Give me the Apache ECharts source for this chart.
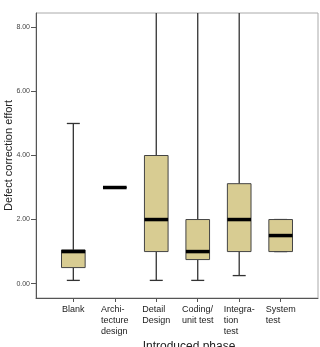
<!DOCTYPE html>
<html style="height: 100%">
<head>
<meta charset="utf-8">
<script src="https://cdn.jsdelivr.net/npm/echarts@6.0.0/dist/echarts.min.js"></script>
</head>
<body style="height: 100%; margin: 0; background: #fff">
<div id="container" style="width: 320px; height: 347px"></div>
<script type="text/javascript">
// phases and box statistics
var categories = ['Blank', 'Archi-\ntecture\ndesign', 'Detail\nDesign', 'Coding/\nunit test', 'Integra-\ntion\ntest', 'System\ntest'];
var minVals    = [0.1, 3.0, 0.1,  0.1,  0.25, 1.0];
var q1Vals     = [0.5, 3.0, 1.0,  0.75, 1.0,  1.0];
var medianVals = [1.0, 3.0, 2.0,  1.0,  2.0,  1.5];
var q3Vals     = [1.05, 3.0, 4.0, 2.0,  3.12, 2.0];
var maxVals    = [5.0, 3.0, 12.0, 12.0, 12.0, 2.0]; // last three run past the top
var yTicks = [0, 2, 4, 6, 8];

var myChart = echarts.init(document.getElementById('container'));

var rows = categories.map(function (c, i) {
  return [i, minVals[i], q1Vals[i], medianVals[i], q3Vals[i], maxVals[i]];
});

function renderBox(params, api) {
  var cs = params.coordSys;
  var top = cs.y, bottom = cs.y + cs.height;
  function clampY(y) { return Math.max(top, Math.min(bottom, y)); }
  var x = api.value(0);
  var pMin = api.coord([x, api.value(1)]);
  var pQ1 = api.coord([x, api.value(2)]);
  var pMed = api.coord([x, api.value(3)]);
  var pQ3 = api.coord([x, api.value(4)]);
  var pMax = api.coord([x, api.value(5)]);
  var cx = pMed[0];
  var bw = api.size([0.57, 0])[0];
  var cw = bw * 0.55;
  var lineStyle = { stroke: '#333', lineWidth: 1.3 };
  var kids = [];
  var yMax = clampY(pMax[1]);
  kids.push({ type: 'line', shape: { x1: cx, y1: pQ3[1], x2: cx, y2: yMax }, style: lineStyle });
  kids.push({ type: 'line', shape: { x1: cx, y1: pQ1[1], x2: cx, y2: pMin[1] }, style: lineStyle });
  if (pMax[1] >= top) {
    kids.push({ type: 'line', shape: { x1: cx - cw / 2, y1: pMax[1], x2: cx + cw / 2, y2: pMax[1] }, style: lineStyle });
  }
  kids.push({ type: 'line', shape: { x1: cx - cw / 2, y1: pMin[1], x2: cx + cw / 2, y2: pMin[1] }, style: lineStyle });
  kids.push({
    type: 'rect',
    shape: { x: cx - bw / 2, y: pQ3[1], width: bw, height: pQ1[1] - pQ3[1] },
    style: { fill: '#d8cc92', stroke: '#444', lineWidth: 1 }
  });
  kids.push({ type: 'line', shape: { x1: cx - bw / 2, y1: pMed[1], x2: cx + bw / 2, y2: pMed[1] }, style: { stroke: '#000', lineWidth: 3.5 } });
  return { type: 'group', children: kids };
}

var option = {
  animation: false,
  backgroundColor: '#fff',
  grid: {
    left: 36, top: 13, right: 2, bottom: 49,
    outerBoundsMode: 'none',
    containLabel: false,
    show: true, borderColor: '#aaa', borderWidth: 1, backgroundColor: '#fff'
  },
  xAxis: {
    type: 'value',
    min: -0.9,
    max: 5.9,
    name: 'Introduced phase',
    nameLocation: 'middle',
    nameGap: 43,
    nameMoveOverlap: false,
    nameTextStyle: { fontFamily: 'Liberation Sans', fontSize: 12, color: '#222', padding: [0, 0, 0, 24] },
    axisLine: { show: true, onZero: false, lineStyle: { color: '#555', width: 1 } },
    axisTick: { show: true, length: 4, customValues: [0, 1, 2, 3, 4, 5], lineStyle: { color: '#555' } },
    axisLabel: {
      customValues: [0, 1, 2, 3, 4, 5],
      formatter: function (v) {
        return categories[Math.round(v)].split('\n').map(function (s) { return '{l|' + s + '}'; }).join('\n');
      },
      rich: { l: { align: 'left', fontFamily: 'Liberation Sans', fontSize: 9, lineHeight: 11, color: '#222' } },
      fontFamily: 'Liberation Sans', fontSize: 9, lineHeight: 11, color: '#222', margin: 6
    },
    splitLine: { show: false }
  },
  yAxis: {
    type: 'value',
    min: -0.45,
    max: 8.45,
    name: 'Defect correction effort',
    nameLocation: 'middle',
    nameGap: 22,
    nameMoveOverlap: false,
    nameTextStyle: { fontFamily: 'Liberation Sans', fontSize: 11, color: '#222' },
    axisLine: { show: true, onZero: false, lineStyle: { color: '#555', width: 1 } },
    axisTick: { show: true, length: 5, customValues: yTicks, lineStyle: { color: '#555' } },
    axisLabel: {
      customValues: yTicks,
      formatter: function (v) { return v.toFixed(2); },
      fontFamily: 'Liberation Sans', fontSize: 7, color: '#444', margin: 6
    },
    splitLine: { show: false }
  },
  series: [{
    type: 'custom',
    renderItem: renderBox,
    encode: { x: 0, y: [1, 2, 3, 4, 5] },
    data: rows
  }]
};

myChart.setOption(option);
</script>
</body>
</html>
